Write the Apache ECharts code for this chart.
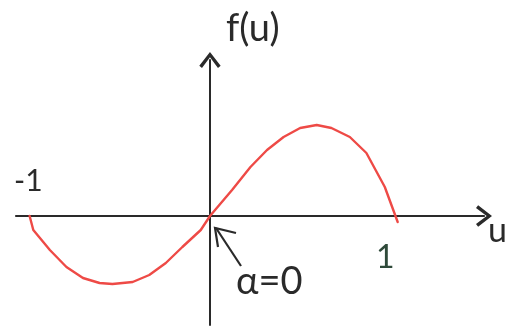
<!DOCTYPE html>
<html>
<head>
<meta charset="utf-8">
<script src="https://cdn.jsdelivr.net/npm/echarts@6/dist/echarts.min.js"></script>
<style>
  html, body { margin: 0; padding: 0; background: #fff; }
  #chart { width: 515px; height: 328px; }
</style>
</head>
<body>
<div id="chart"></div>
<script>
// Sketch of f(u) on [-1, 1] with zeros at -1, 0 and 1 (case α = 0)
const uValues = [-0.98, -0.96, -0.87, -0.78, -0.69, -0.60, -0.53, -0.42, -0.33, -0.24, -0.15, -0.05, 0.00,
                 0.12, 0.22, 0.31, 0.40, 0.49, 0.58, 0.66, 0.76, 0.85, 0.90, 0.95, 0.99, 1.02];
const fValues = [0.00, -0.14, -0.34, -0.51, -0.62, -0.67, -0.68, -0.66, -0.59, -0.47, -0.31, -0.14, 0.00,
                 0.26, 0.49, 0.66, 0.79, 0.88, 0.91, 0.88, 0.79, 0.63, 0.46, 0.29, 0.09, -0.06];
const tickLabels = ['-1', '1'];
const axisNames = ['u', 'f(u)'];
const caseLabel = 'α=0';

const ink = '#2a2a2a';
const hand = 'Lato, "DejaVu Sans", sans-serif';
const chevron = 'path://M10,0 L20,13 L17.5,15 L10,5 L2.5,15 L0,13 Z';

const chart = echarts.init(document.getElementById('chart'), null, { renderer: 'canvas' });
chart.setOption({
  animation: false,
  backgroundColor: '#ffffff',
  grid: { left: 16, right: 31, top: 60, bottom: 3 },
  xAxis: {
    type: 'value', min: -1.054, max: 1.489,
    axisLine: { onZero: true, symbol: ['none', chevron], symbolSize: [24, 16],
                lineStyle: { color: ink, width: 2.2 } },
    axisTick: { show: false }, axisLabel: { show: false }, splitLine: { show: false }
  },
  yAxis: {
    type: 'value', min: -1.09, max: 1.56,
    axisLine: { show: true, onZero: true, symbol: ['none', chevron], symbolSize: [24, 16],
                lineStyle: { color: ink, width: 2 } },
    axisTick: { show: false }, axisLabel: { show: false }, splitLine: { show: false }
  },
  series: [{
    type: 'line',
    data: uValues.map((u, i) => [u, fValues[i]]),
    smooth: false,
    showSymbol: false,
    lineStyle: { color: '#ee4a46', width: 2.4, join: 'round', cap: 'round' },
    z: 3
  }],
  graphic: [
    { type: 'text', left: 226, top: 10,
      style: { text: axisNames[1], font: '38px ' + hand, fill: ink } },
    { type: 'text', left: 488, top: 214,
      style: { text: axisNames[0], font: '34px ' + hand, fill: ink } },
    { type: 'text', left: 14, top: 166,
      style: { text: tickLabels[0], font: '30px ' + hand, fill: ink } },
    { type: 'text', left: 376, top: 242,
      style: { text: tickLabels[1], font: '32px ' + hand, fill: '#2f4a3a' } },
    { type: 'text', left: 236, top: 263,
      style: { text: caseLabel, font: '38px ' + hand, fill: ink } },
    { type: 'polyline', shape: { points: [[241, 266], [216, 228]] },
      style: { stroke: ink, lineWidth: 2.2, fill: null } },
    { type: 'polyline', shape: { points: [[218, 247], [215, 228], [236, 233]] },
      style: { stroke: ink, lineWidth: 2.2, fill: null } }
  ]
});
</script>
</body>
</html>
